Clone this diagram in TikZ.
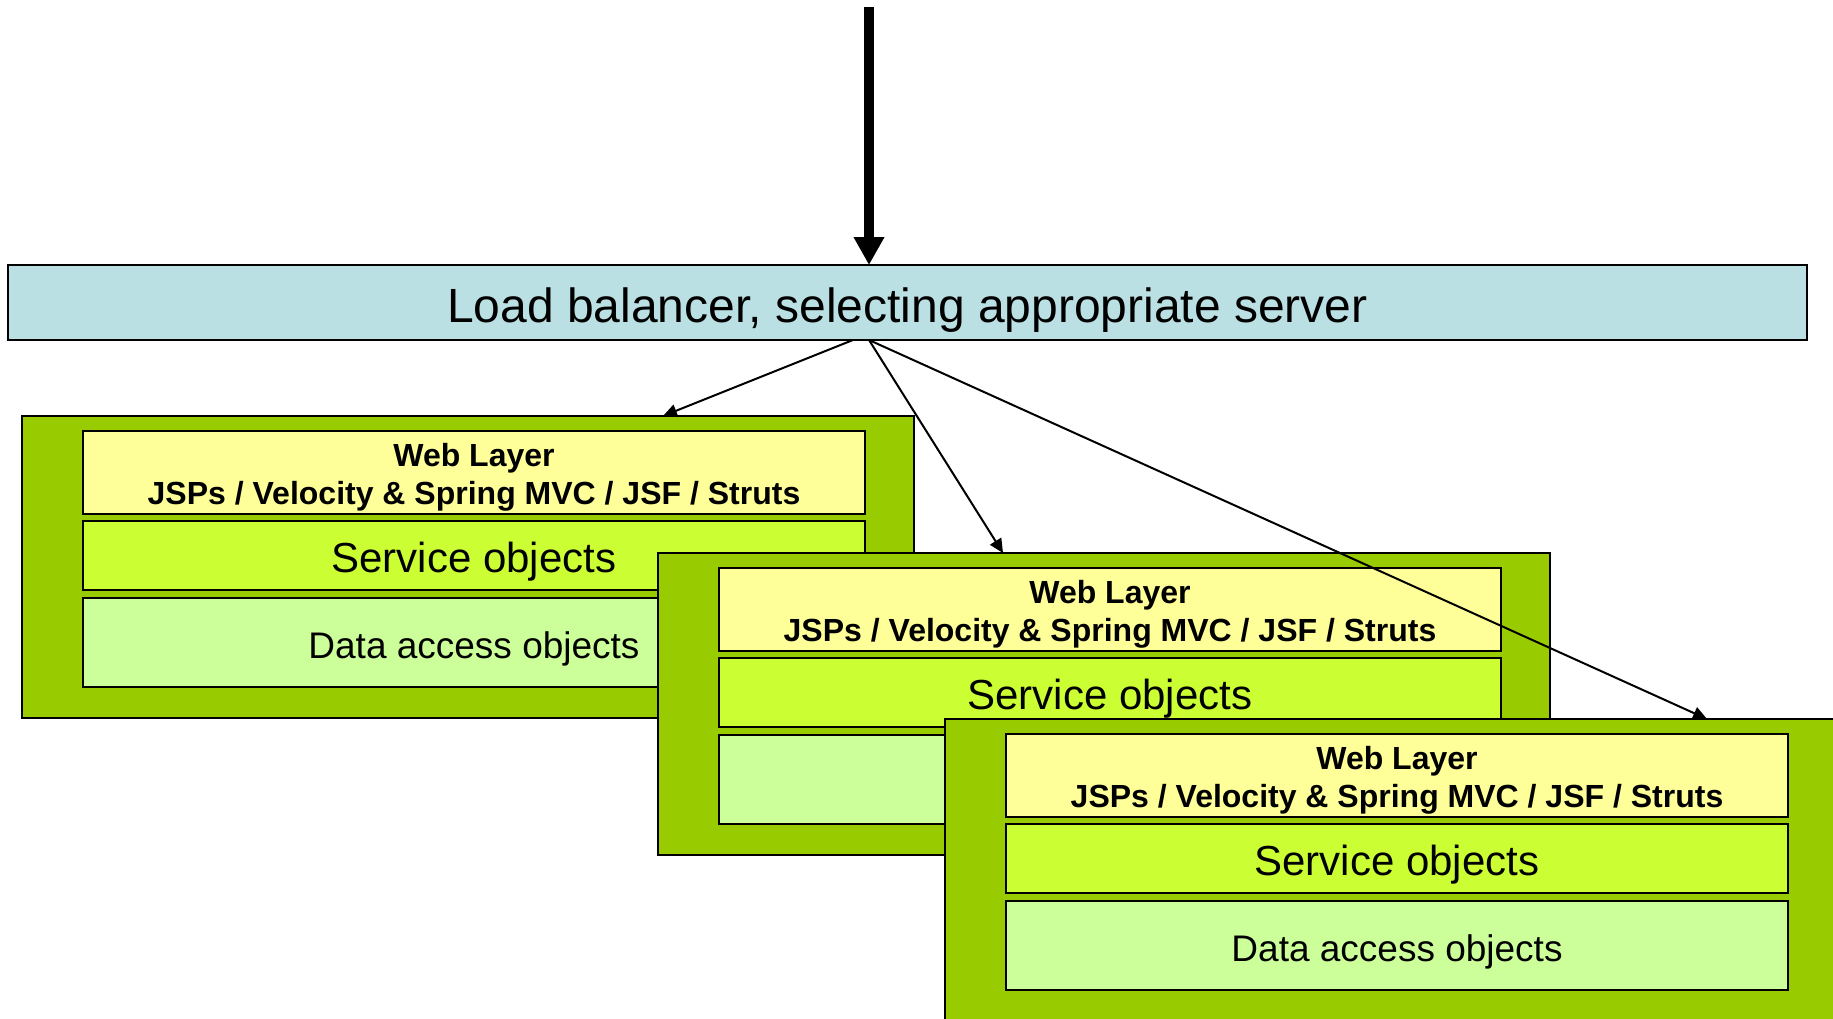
\documentclass[tikz,border=0pt]{standalone}
\usepackage{fontspec}
\setmainfont{Liberation Sans}
\usetikzlibrary{arrows.meta,calc}

\definecolor{lbfill}{HTML}{BBE0E3}
\definecolor{srvfill}{HTML}{99CC00}
\definecolor{webfill}{HTML}{FFFF99}
\definecolor{svcfill}{HTML}{CCFF33}
\definecolor{daofill}{HTML}{CCFF99}

\tikzset{
  box/.style={draw=black, line width=2pt, rectangle, inner sep=0pt, outer sep=0pt, anchor=north west},
  lbbox/.style={box, fill=lbfill, minimum width=1799pt, minimum height=75pt,
    font=\fontsize{48}{56}\selectfont, text height=39pt, text depth=0pt},
  srvbox/.style={box, line width=1.6pt, fill=srvfill, minimum width=892pt, minimum height=302pt},
  webbox/.style={box, fill=webfill, minimum width=782pt, minimum height=83pt},
  svcbox/.style={box, fill=svcfill, minimum width=782pt, minimum height=69pt,
    font=\fontsize{42}{50}\selectfont, text height=34pt, text depth=0pt},
  daobox/.style={box, fill=daofill, minimum width=782pt, minimum height=89pt,
    font=\fontsize{37}{44}\selectfont, text height=31pt, text depth=0pt},
  webtext/.style={anchor=base, inner sep=0pt, font=\bfseries\fontsize{32}{38}\selectfont},
  bigarrow/.style={line width=10pt, -{Triangle[width=29pt,length=28pt]}},
  thinarrow/.style={line width=2pt, -{Triangle[width=13pt,length=14pt]}},
}

% One server: outer green frame with its three layers
\newcommand\serverstack[3]{%
  \node[srvbox] (srv#1) at (#2,#3) {};
  \node[webbox] (web#1) at ($(srv#1.north west)+(61,15)$) {};
  \node[webtext] (webtitle#1) at ($(web#1.north)+(0,35)$) {Web Layer};
  \node[webtext] (webtech#1) at ($(web#1.north)+(0,73)$) {JSPs / Velocity \& Spring MVC / JSF / Struts};
  \node[svcbox] (svc#1) at ($(srv#1.north west)+(61,105)$) {Service objects};
  \node[daobox] (dao#1) at ($(srv#1.north west)+(61,182)$) {Data access objects};
}

\begin{document}
\begin{tikzpicture}[x=1pt, y=-1pt]
  \useasboundingbox[fill=white] (0,0) rectangle (1833,1018);
  \clip (0,0) rectangle (1833,1018);

  % load balancer
  \node[lbbox] (lb) at (8,265) {Load balancer, selecting appropriate server};

  % three servers, overlapping
  \serverstack{A}{22}{416}
  \serverstack{B}{658}{553}
  \serverstack{C}{945}{719}

  % incoming requests
  \coordinate (incoming) at (869,7);
  \draw[bigarrow] (incoming) -- (incoming |- lb.north);

  % dispatch to the servers
  \coordinate (outA) at ($(lb.south west)+(845,0)$);
  \coordinate (outB) at ($(lb.south west)+(861,0)$);
  \draw[thinarrow] (outA) -- ($(srvA.north west)+(641,0)$);
  \draw[thinarrow] (outB) -- ($(srvB.north west)+(345,0)$);
  \draw[thinarrow] (outB) -- ($(srvC.north west)+(762,0)$);
\end{tikzpicture}
\end{document}
